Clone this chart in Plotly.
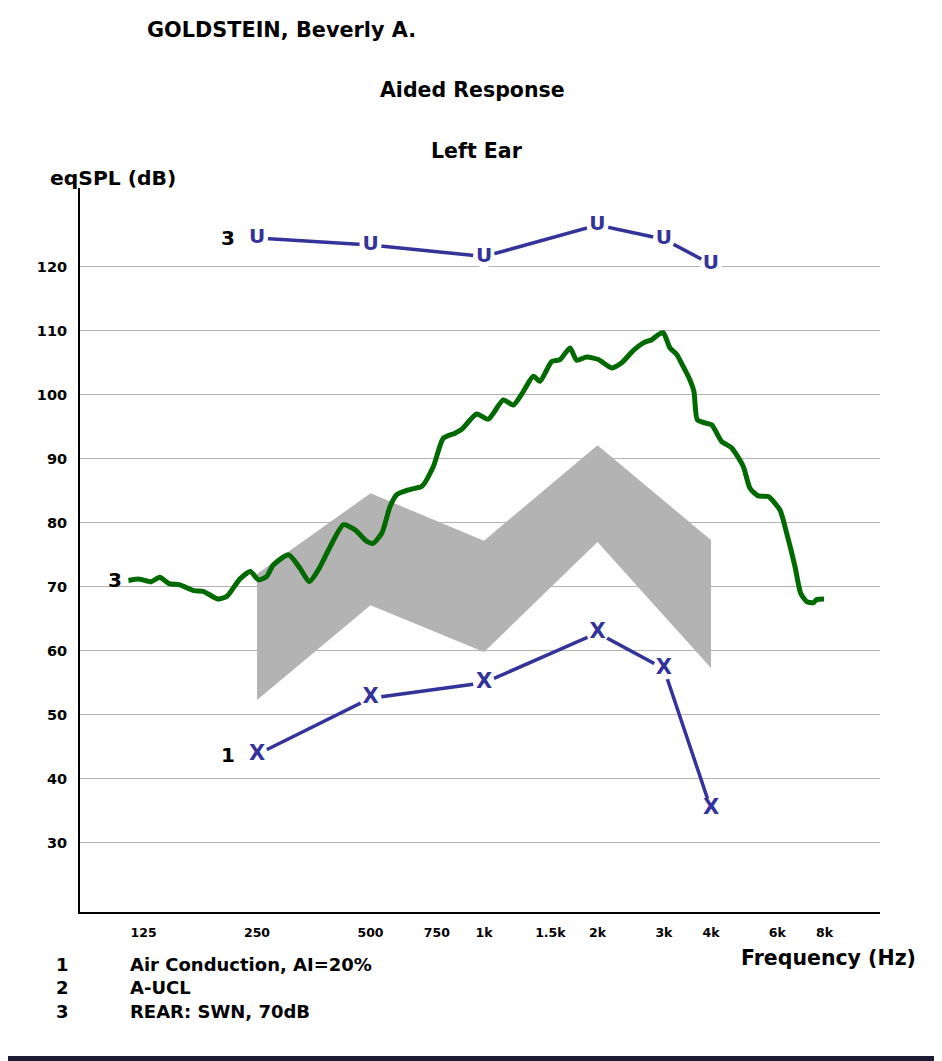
import math
import plotly.graph_objects as go

# speech-band (gray area)
band_freq = [250, 500, 1000, 2000, 4000]
band_upper = [72.0, 84.6, 77.2, 92.1, 77.3]
band_lower = [52.3, 67.1, 59.8, 77.0, 57.3]

# audiometric points
test_freq = [250, 500, 1000, 2000, 3000, 4000]
air_aided = [43.8, 52.6, 55.0, 62.8, 57.2, 35.3]
ucl_aided = [124.5, 123.4, 121.6, 126.5, 124.3, 120.4]

# REAR: SWN 70 dB measured curve
rear_freq = [114, 122, 131, 138, 146, 156, 170, 180, 197, 208,
             225, 240, 252, 265, 276, 303, 325, 344, 364, 391,
             424, 455, 489, 508, 536, 563, 587, 636, 684, 734,
             780, 838, 873, 956, 1027, 1125, 1196, 1271, 1351, 1408,
             1512, 1591, 1691, 1761, 1872, 2010, 2181, 2318, 2488, 2646,
             2785, 2900, 2989, 3114, 3245, 3377, 3518, 3605, 3679, 3856,
             4017, 4269, 4539, 4873, 5076, 5340, 5676, 6096, 6350, 6681,
             6917, 7177, 7471, 7627, 7977]
rear_db = [71.0, 71.2, 70.8, 71.5, 70.5, 70.3, 69.4, 69.3, 68.1, 68.5,
           71.2, 72.4, 71.1, 71.6, 73.4, 75.0, 72.9, 70.8, 72.7, 76.3,
           79.7, 78.9, 77.1, 76.8, 78.4, 82.5, 84.4, 85.2, 85.7, 88.8,
           93.2, 94.0, 94.6, 97.0, 96.2, 99.2, 98.4, 100.5, 102.9, 102.1,
           105.2, 105.5, 107.3, 105.4, 105.9, 105.5, 104.2, 105.0, 106.9, 108.1,
           108.6, 109.4, 109.7, 107.3, 106.3, 104.4, 102.3, 100.5, 96.1, 95.6,
           95.3, 92.7, 91.7, 88.8, 85.4, 84.2, 84.1, 82.0, 78.4, 73.2,
           69.0, 67.7, 67.5, 68.0, 68.1]

freq_ticks = [125, 250, 500, 750, 1000, 1500, 2000, 3000, 4000, 6000, 8000]
freq_labels = ["125", "250", "500", "750", "1k", "1.5k", "2k", "3k", "4k", "6k", "8k"]
db_ticks = [30, 40, 50, 60, 70, 80, 90, 100, 110, 120]

legend_nums = ["1", "2", "3"]
legend_texts = ["Air Conduction, AI=20%", "A-UCL", "REAR: SWN, 70dB"]

FONT = "DejaVu Sans"
BLUE = "#333399"
GREEN = "#006a00"

fig = go.Figure()

fig.add_trace(go.Scatter(
    x=band_freq + band_freq[::-1],
    y=band_upper + band_lower[::-1],
    fill="toself", fillcolor="#b3b3b3", line=dict(width=0),
    mode="lines", hoverinfo="skip"))

fig.add_trace(go.Scatter(
    x=rear_freq, y=rear_db, mode="lines",
    line=dict(color=GREEN, width=5, shape="spline", smoothing=0.6)))

for vals in (air_aided, ucl_aided):
    fig.add_trace(go.Scatter(x=test_freq, y=vals, mode="lines",
                             line=dict(color=BLUE, width=3.5)))
    # white disc to leave a gap between line and symbol
    fig.add_trace(go.Scatter(x=test_freq, y=vals, mode="markers",
                             marker=dict(color="white", size=22, line=dict(width=0))))

fig.add_trace(go.Scatter(x=test_freq, y=air_aided, mode="text", text=["X"] * len(test_freq),
                         textfont=dict(family=FONT, size=21, color=BLUE, weight="bold")))
fig.add_trace(go.Scatter(x=test_freq, y=ucl_aided, mode="text", text=["U"] * len(test_freq),
                         textfont=dict(family=FONT, size=20, color=BLUE, weight="bold")))

# curve labels
lab_font = dict(family=FONT, size=20, color="black", weight="bold")
for fx, fy, lab, sh in [(rear_freq[0], rear_db[0], "3", -4),
                        (test_freq[0], air_aided[0], "1", -20),
                        (test_freq[0], ucl_aided[0], "3", -20)]:
    fig.add_annotation(x=math.log10(fx), y=fy, text=lab, showarrow=False,
                       xanchor="right", yanchor="middle", xshift=sh, font=lab_font)

title_font = dict(family=FONT, color="black", weight="bold")
fig.add_annotation(xref="paper", yref="paper", x=0.0812, y=1.2182, text="GOLDSTEIN, Beverly A.",
                   showarrow=False, xanchor="left", yanchor="middle", font=dict(title_font, size=20.8))
fig.add_annotation(xref="paper", yref="paper", x=0.49, y=1.1354, text="Aided Response",
                   showarrow=False, xanchor="center", yanchor="middle", font=dict(title_font, size=20.5))
fig.add_annotation(xref="paper", yref="paper", x=0.496, y=1.0511, text="Left Ear",
                   showarrow=False, xanchor="center", yanchor="middle", font=dict(title_font, size=20.5))
fig.add_annotation(xref="paper", yref="paper", x=-0.04, y=1.0138, text="eqSPL (dB)",
                   showarrow=False, xanchor="left", yanchor="middle", font=dict(title_font, size=20.3))
fig.add_annotation(xref="paper", yref="paper", x=1.0475, y=-0.0635, text="Frequency (Hz)",
                   showarrow=False, xanchor="right", yanchor="middle", font=dict(title_font, size=20.5))

# key below the chart, one block for the numbers and one for the texts
fig.add_annotation(xref="paper", yref="paper", x=-0.0225, y=-0.105, text="<br>".join(legend_nums),
                   showarrow=False, xanchor="center", yanchor="middle", align="center",
                   font=dict(title_font, size=18))
fig.add_annotation(xref="paper", yref="paper", x=0.06, y=-0.105, text="<br>".join(legend_texts),
                   showarrow=False, xanchor="left", yanchor="middle", align="left",
                   font=dict(title_font, size=18))

# white sheet on the dark slide background
fig.add_shape(type="rect", xref="paper", yref="paper", x0=-0.09, x1=1.0675, y0=-0.1989, y1=1.2528,
              fillcolor="white", line=dict(width=0), layer="below")

# page body keeps an 8px margin, so the figure is 8px smaller than the window
fig.update_layout(
    width=934, height=1053,
    margin=dict(l=72, r=62, t=180, b=149),
    paper_bgcolor="#1b1b33", plot_bgcolor="white",
    showlegend=False,
    xaxis=dict(type="log", range=[math.log10(84.8), math.log10(11230)],
               tickvals=freq_ticks, ticktext=freq_labels, showgrid=False,
               showline=True, linecolor="black", linewidth=2, ticks="", zeroline=False,
               ticklabelstandoff=8,
               tickfont=dict(family=FONT, size=12.5, color="black", weight="bold")),
    yaxis=dict(range=[19.2, 132.3], tickvals=db_ticks, showgrid=True,
               gridcolor="#b3b3b3", gridwidth=1, showline=True, linecolor="black",
               linewidth=2, ticks="", zeroline=False, ticklabelstandoff=8,
               tickfont=dict(family=FONT, size=14.5, color="black", weight="bold")),
)

fig.write_html("out.html")
